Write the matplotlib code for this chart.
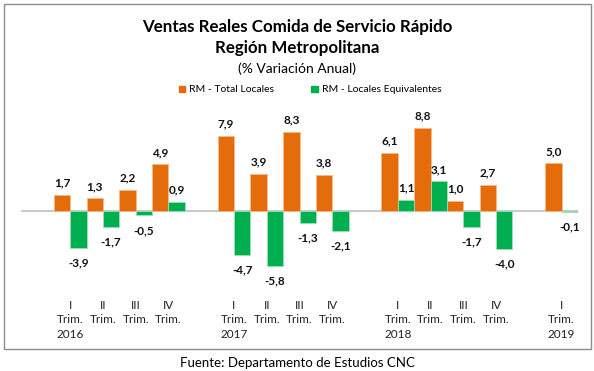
import matplotlib.pyplot as plt
from matplotlib.patches import Rectangle, Patch

plt.rcParams['font.family'] = ['Lato', 'DejaVu Sans']

# quarters per year
years = ['2016', '2017', '2018', '2019']
quarters = [['I', 'II', 'III', 'IV'],
            ['I', 'II', 'III', 'IV'],
            ['I', 'II', 'III', 'IV'],
            ['I']]
total_locales = [1.7, 1.3, 2.2, 4.9,
                 7.9, 3.9, 8.3, 3.8,
                 6.1, 8.8, 1.0, 2.7,
                 5.0]
locales_equiv = [-3.9, -1.7, -0.5, 0.9,
                 -4.7, -5.8, -1.3, -2.1,
                 1.1, 3.1, -1.7, -4.0,
                 -0.1]

# build slot positions with an empty slot before every year
xpos = []
labels = []
slot = 0
for yr, qs in zip(years, quarters):
    slot += 1  # blank slot
    for i, q in enumerate(qs):
        xpos.append(slot)
        if i == 0:
            labels.append(q + '\nTrim.\n' + yr)
        else:
            labels.append(q + '\nTrim.')
        slot += 1
n_slots = slot

W, H = 594, 371
fig = plt.figure(figsize=(W / 100, H / 100), dpi=100)

# outer frame
fig.patches.append(Rectangle((4 / W, 1 - 349 / H), 587 / W, 345 / H,
                             transform=fig.transFigure, fill=False,
                             edgecolor='#8C8C8C', linewidth=1))

ax_top, ax_bot = 110, 292
ax = fig.add_axes([21 / W, 1 - ax_bot / H, 557 / W, (ax_bot - ax_top) / H])
px_per_unit = 9.45
zero_px = 210.7
ax.set_ylim(-(ax_bot - zero_px) / px_per_unit, (zero_px - ax_top) / px_per_unit)
ax.set_xlim(-0.5, n_slots - 0.5)

orange = '#E46C0A'
green = '#00B050'
bw = 0.5
xo = [x - bw / 2 for x in xpos]
xg = [x + bw / 2 for x in xpos]
ax.bar(xo, total_locales, width=bw, color=orange, edgecolor='#F6B98A', linewidth=0.6, zorder=2)
ax.bar(xg, locales_equiv, width=bw, color=green, edgecolor='#9FE0BB', linewidth=0.6, zorder=2)
ax.axhline(0, color='#BFBFBF', linewidth=1.2, zorder=1)

for xs, vals in [(xo, total_locales), (xg, locales_equiv)]:
    for x, v in zip(xs, vals):
        off = 12 if v >= 0 else -15
        ax.annotate(f'{v:.1f}'.replace('.', ','), (x, v), xytext=(0, off),
                    textcoords='offset pixels', ha='center', va='center',
                    fontsize=8.5, fontweight='bold', color='#111111')

ax.set_xticks(xpos)
ax.set_xticklabels(labels, fontsize=8.5, linespacing=1.4, color='#222222')
ax.tick_params(axis='x', length=0, pad=5.5)
ax.set_yticks([])
for s in ax.spines.values():
    s.set_visible(False)

fig.text(0.5, 1 - 27 / H, 'Ventas Reales Comida de Servicio Rápido', ha='center', va='center',
         fontsize=12.2, fontweight='bold')
fig.text(0.5, 1 - 48 / H, 'Región Metropolitana', ha='center', va='center',
         fontsize=12.2, fontweight='bold')
fig.text(0.5, 1 - 69 / H, '(% Variación Anual)', ha='center', va='center', fontsize=10)

handles = [Patch(color=orange, label='RM - Total Locales'),
           Patch(color=green, label='RM - Locales Equivalentes')]
fig.legend(handles=handles, loc='center', bbox_to_anchor=(310 / W, 1 - 90 / H), ncol=2,
           frameon=False, fontsize=7.5, handlelength=0.6, handleheight=0.6,
           handletextpad=0.4, columnspacing=3.6)

fig.text(0.5, 1 - 363 / H, 'Fuente: Departamento de Estudios CNC', ha='center', va='center',
         fontsize=9.5)

fig.savefig('out.png', dpi=100)
